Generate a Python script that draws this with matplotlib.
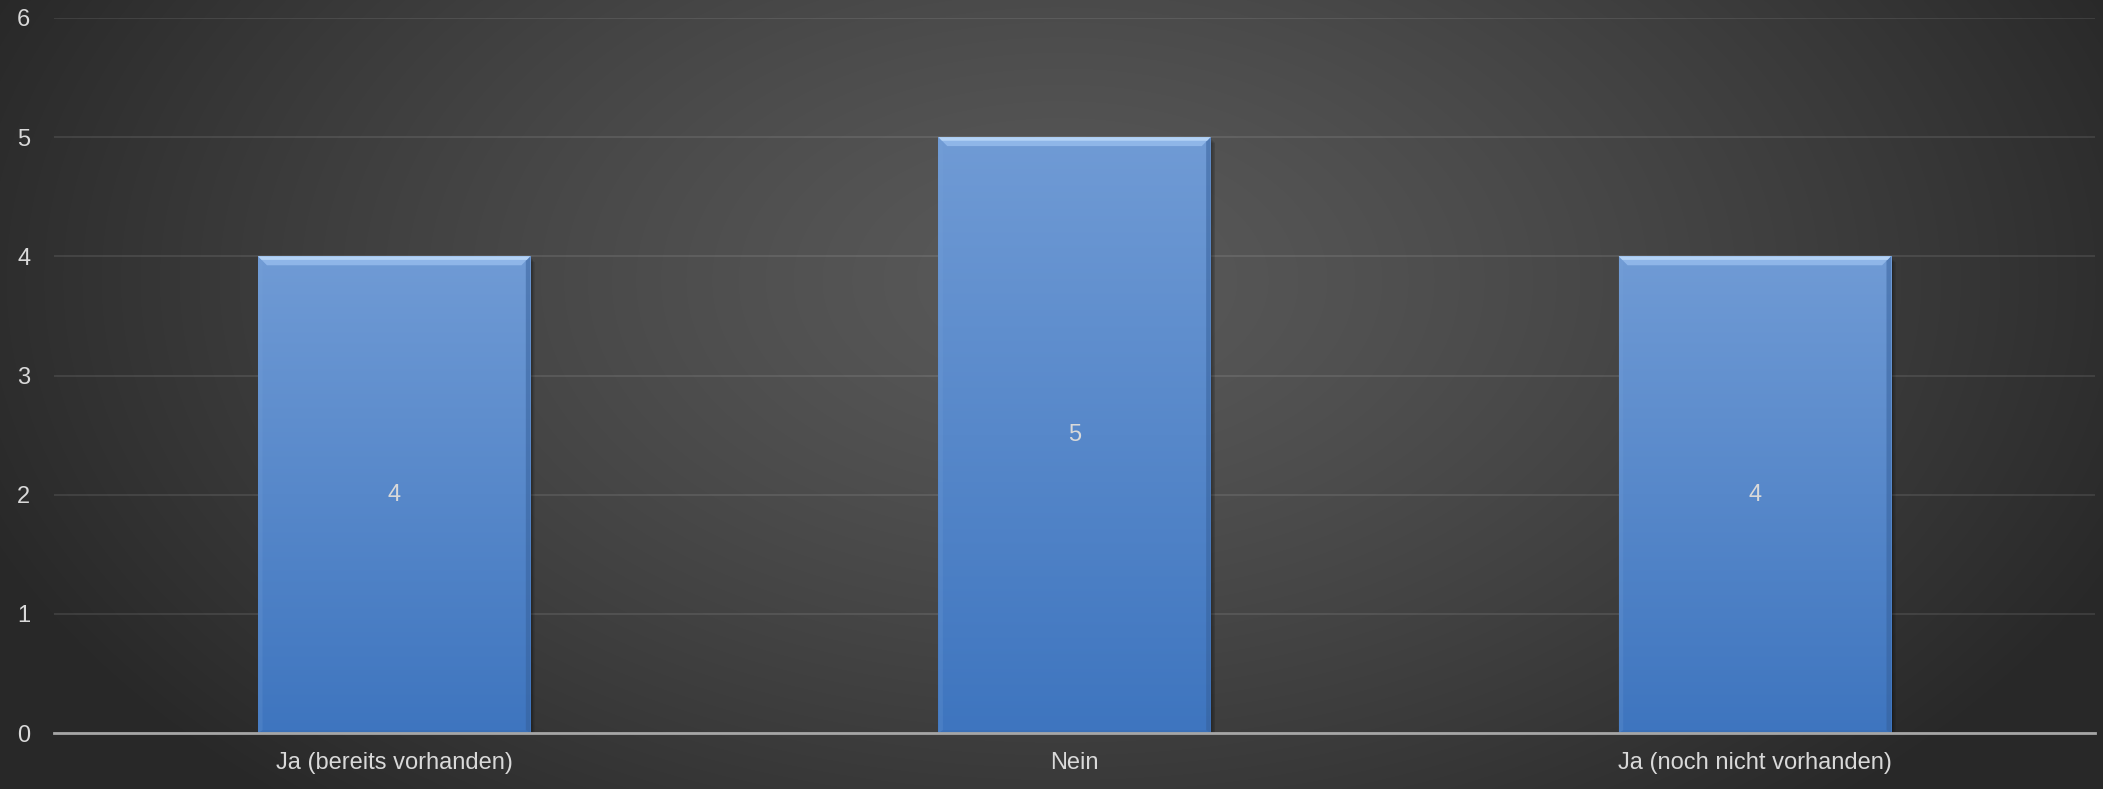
import numpy as np
import matplotlib.pyplot as plt
from matplotlib.patches import Polygon, Rectangle

plt.rcParams['font.family'] = ['Liberation Sans', 'DejaVu Sans']

categories = ['Ja (bereits vorhanden)', 'Nein', 'Ja (noch nicht vorhanden)']
values = [4, 5, 4]
yticks = [0, 1, 2, 3, 4, 5, 6]

W, H = 2103, 789
fig = plt.figure(figsize=(W / 100, H / 100), dpi=100)

# dark radial background, lighter towards the middle
bg = fig.add_axes([0, 0, 1, 1])
yy, xx = np.mgrid[0:H, 0:W]
r = np.sqrt(((xx - 1060) / 1150.0) ** 2 + ((yy - 280) / 700.0) ** 2)
r = np.clip(r, 0, 1)
shade = 0.35 - (0.35 - 0.16) * r ** 1.3
bg.imshow(np.dstack([shade, shade, shade]), aspect='auto', extent=[0, 1, 0, 1])
bg.axis('off')

ax = fig.add_axes([54 / W, 1 - 733 / H, (2095 - 54) / W, (733 - 18) / H])
ax.set_facecolor('none')
x = np.arange(len(categories))
bar_w = 0.4

# soft shadow on the right side of each bar
for xi, v in zip(x, values):
    for k in range(6):
        ax.add_patch(Rectangle((xi - bar_w / 2 + 0.0012 * (k + 1), 0), bar_w, v - 0.01 * k,
                               color='black', alpha=0.07, lw=0, zorder=2))

bars = ax.bar(x, values, width=bar_w, color='#4f88cc', zorder=3)

# vertical blue gradient inside each bar
grad = np.linspace(0, 1, 256)[:, None]
top = np.array([0x70, 0x9b, 0xd5]) / 255
bot = np.array([0x3e, 0x75, 0xbf]) / 255
img = top[None, None, :] * (1 - grad[..., None]) + bot[None, None, :] * grad[..., None]
for b in bars:
    x0, w, h = b.get_x(), b.get_width(), b.get_height()
    im = ax.imshow(img, aspect='auto', extent=[x0, x0 + w, 0, h], zorder=3.5,
                   interpolation='bicubic')
    im.set_clip_path(b)
    # bevel along the top edge
    dx, dy = 0.013, 0.075
    ax.add_patch(Polygon([[x0, h], [x0 + w, h], [x0 + w - dx, h - dy], [x0 + dx, h - dy]],
                         closed=True, color='#8fb6e8', lw=0, zorder=4))
    ax.add_patch(Polygon([[x0, h], [x0 + w, h], [x0 + w - dx * 0.4, h - dy * 0.4],
                          [x0 + dx * 0.4, h - dy * 0.4]],
                         closed=True, color='#b4d3f6', lw=0, zorder=4.1))
    # darker right edge, faint left edge and bottom
    ax.add_patch(Polygon([[x0 + w, h], [x0 + w, 0], [x0 + w - dx * 0.5, dy * 0.3],
                          [x0 + w - dx * 0.5, h - dy * 0.5]],
                         closed=True, color='#355f99', alpha=0.5, lw=0, zorder=4))
    ax.add_patch(Polygon([[x0, h], [x0, 0], [x0 + dx * 0.5, dy * 0.3],
                          [x0 + dx * 0.5, h - dy * 0.5]],
                         closed=True, color='#7aa5dc', alpha=0.2, lw=0, zorder=4))
    ax.add_patch(Polygon([[x0, 0], [x0 + w, 0], [x0 + w - dx * 0.5, dy * 0.3],
                          [x0 + dx * 0.5, dy * 0.3]],
                         closed=True, color='#3a6cb0', alpha=0.5, lw=0, zorder=4))

for xi, v in zip(x, values):
    ax.text(xi, v / 2, str(v), ha='center', va='center', color='#d9d9d9',
            fontsize=17, zorder=5)

ax.set_xlim(-0.5, len(categories) - 0.5)
ax.set_ylim(0, 6)
ax.set_yticks(yticks)
ax.set_xticks(x)
ax.set_xticklabels(categories)
ax.yaxis.grid(True, color='#ffffff', alpha=0.1, lw=1.3, zorder=1)
ax.set_axisbelow(True)
for s in ['top', 'right', 'left']:
    ax.spines[s].set_visible(False)
ax.spines['bottom'].set_color('#a6a6a6')
ax.spines['bottom'].set_linewidth(2)
ax.spines['bottom'].set_zorder(6)
ax.tick_params(axis='both', length=0, colors='#d9d9d9', labelsize=17)
ax.tick_params(axis='y', pad=17)
ax.tick_params(axis='x', pad=14)

fig.savefig('out.png', dpi=100)
